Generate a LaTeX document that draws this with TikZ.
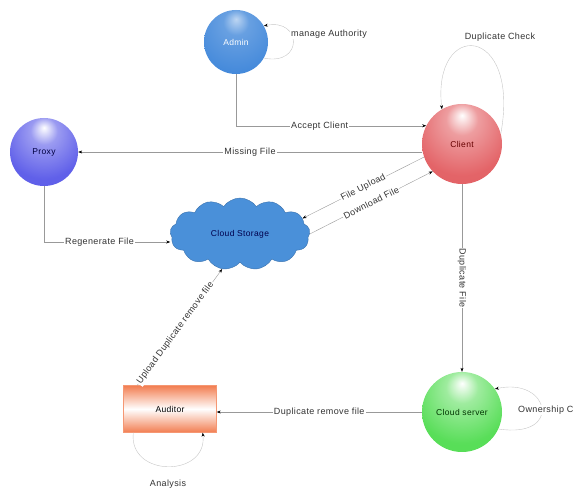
\documentclass[tikz,border=0pt]{standalone}
\usepackage{fontspec}
\setmainfont{Liberation Sans}[LetterSpace=4]
\usetikzlibrary{shapes,shapes.symbols,arrows.meta}
\definecolor{adminBlue}{RGB}{66,136,218}
\definecolor{proxyBlue}{RGB}{88,88,232}
\definecolor{clientRed}{RGB}{226,92,96}
\definecolor{serverGreen}{RGB}{80,220,80}
\definecolor{cloudBlue}{RGB}{74,144,217}
\definecolor{auditOrange}{RGB}{242,125,80}
\pgfdeclareradialshading{sphereAdmin}{\pgfpoint{0bp}{18bp}}{color(0bp)=(adminBlue!35!white); color(10bp)=(adminBlue!80!white); color(35bp)=(adminBlue); color(55bp)=(adminBlue!85!black); color(70bp)=(adminBlue!65!black)}
\pgfdeclareradialshading{sphereClient}{\pgfpoint{0bp}{18bp}}{color(0bp)=(white); color(10bp)=(clientRed!60!white); color(30bp)=(clientRed!95!white); color(55bp)=(clientRed); color(70bp)=(clientRed!85!black)}
\pgfdeclareradialshading{sphereProxy}{\pgfpoint{0bp}{18bp}}{color(0bp)=(white); color(10bp)=(proxyBlue!60!white); color(30bp)=(proxyBlue!95!white); color(55bp)=(proxyBlue); color(70bp)=(proxyBlue!80!black)}
\pgfdeclareradialshading{sphereServer}{\pgfpoint{0bp}{18bp}}{color(0bp)=(white); color(10bp)=(serverGreen!55!white); color(30bp)=(serverGreen!95!white); color(55bp)=(serverGreen); color(70bp)=(serverGreen!85!black)}
\tikzstyle{sphere} = [circle, text centered, font=\fontsize{8.5}{10}\selectfont]
\tikzstyle{cloudbox} = [cloud, cloud puffs=13, cloud puff arc=110, aspect=2, minimum width=140pt,
minimum height=72pt, draw=cloudBlue!80!black, fill=cloudBlue, text=blue!30!black, font=\fontsize{8.5}{10}\selectfont]
\tikzstyle{auditbox} = [rectangle, minimum width=93pt, minimum height=47pt, draw=auditOrange!80,
top color=auditOrange, bottom color=auditOrange, middle color=white, font=\fontsize{8.5}{10}\selectfont]
\tikzstyle{flowArrow} = [thin, draw=gray!80, -{Stealth[length=4pt,width=3pt,black]}]
\tikzstyle{loopArrow} = [thin, draw=gray!45, -{Stealth[length=4pt,width=3pt,black]}]
\tikzstyle{edgeLabel} = [fill=white, inner sep=1pt, text=black!80, font=\fontsize{9}{10}\selectfont]

\begin{document}
\begin{tikzpicture}[x=1pt,y=1pt]
		\useasboundingbox (0,0) rectangle (574,-489);
		%blocks
		\node[sphere, minimum size=64pt, shading=sphereAdmin, text=white](admin) at (236,-42){Admin};
		\node[sphere, minimum size=80pt, shading=sphereClient, text=red!40!black](client) at (462,-144){Client};
		\node[sphere, minimum size=68pt, shading=sphereProxy, text=blue!25!black](proxy) at (44,-152){Proxy};
		\node[cloudbox](storage) at (240,-234){Cloud Storage};
		\node[sphere, minimum size=80pt, shading=sphereServer, text=green!20!black](server) at (462,-412){Cloud server};
		\node[auditbox](auditor) at (170,-409){Auditor};

		%arrows
		\draw[loopArrow](admin.-30) .. controls +(40,-8) and +(38,8) .. (admin.30);
		\node[edgeLabel, anchor=west] at (290,-34){manage Authority};
		\draw[flowArrow](admin.south) |- (client.153) node[edgeLabel, pos=0.72]{Accept Client};
		\draw[loopArrow](client.15) .. controls +(20,110) and +(-10,90) .. (client.120);
		\node[edgeLabel] at (500,-37){Duplicate Check};
		\draw[flowArrow](client.west |- proxy.east) -- (proxy.east) node[edgeLabel, midway]{Missing File};
		\draw[flowArrow](proxy.south) |- ([yshift=-8pt]storage.west) node[edgeLabel, pos=0.72]{Regenerate File};
		\draw[flowArrow](client.199) -- (storage.14) node[edgeLabel, sloped, midway]{File Upload};
		\draw[flowArrow](storage.0) -- (client.223) node[edgeLabel, sloped, midway]{Download File};
		\draw[flowArrow](client.south) -- (server.north) node[edgeLabel, sloped, midway]{Duplicate File};
		\draw[loopArrow](server.-25) .. controls +(65,-10) and +(55,12) .. (server.35);
		\node[edgeLabel, anchor=west] at (517,-410){Ownership Check};
		\draw[flowArrow](server.west) -- (server.west -| auditor.east) node[edgeLabel, midway]{Duplicate remove file};
		\draw[flowArrow]([xshift=14pt]auditor.north west) -- (storage.243) node[edgeLabel, sloped, pos=0.45]{Upload Duplicate remove file};
		\draw[loopArrow]([xshift=10pt]auditor.south west) .. controls +(-5,-45) and +(5,-45) .. ([xshift=-14pt]auditor.south east);
		\node[edgeLabel] at (168,-484){Analysis};
	\end{tikzpicture}
\end{document}
